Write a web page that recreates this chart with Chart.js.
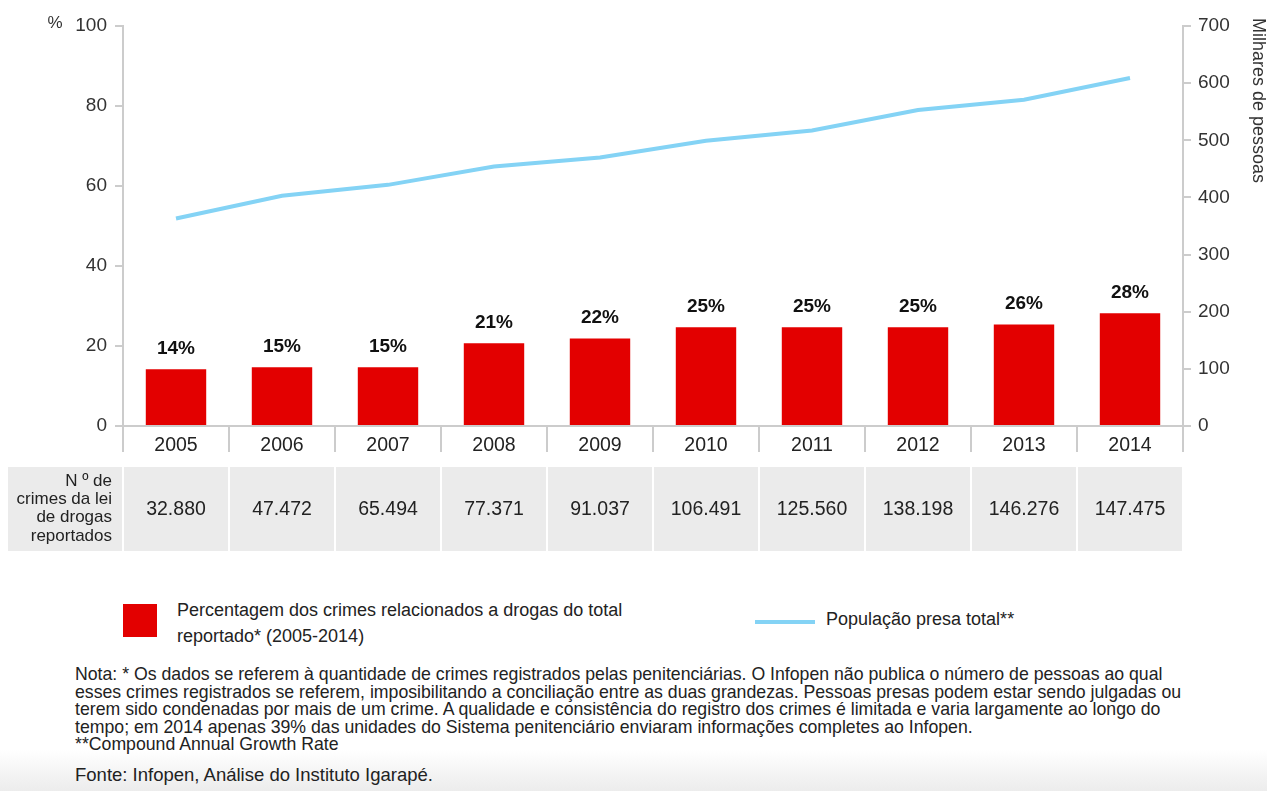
<!DOCTYPE html>
<html>
<head>
<meta charset="utf-8">
<script src="https://cdn.jsdelivr.net/npm/chart.js@4.4.1/dist/chart.umd.min.js"></script>
<style>
  body { margin: 0; width: 1267px; height: 791px; overflow: hidden; font-family: "Liberation Sans", Arial, sans-serif; color: #222;
    background: linear-gradient(to bottom, #fff 0px, #fff 750px, #ececec 791px); }
  #wrap { position: absolute; left: 0; top: 0; width: 1267px; height: 560px; }
  .txt { position: absolute; white-space: nowrap; font-size: 18px; color: #222; }
  .sw { position: absolute; }
</style>
</head>
<body>
<div id="wrap"><canvas id="chart1" width="1267" height="560"></canvas></div>

<div class="sw" style="left:123px;top:604px;width:34px;height:33px;background:#e30000"></div>
<div class="txt" style="left:177px;top:600px">Percentagem dos crimes relacionados a drogas do total</div>
<div class="txt" style="left:177px;top:626px">reportado* (2005-2014)</div>
<div class="sw" style="left:755px;top:620px;width:60px;height:4px;background:#84d3f5"></div>
<div class="txt" style="left:826px;top:609px">População presa total**</div>

<div class="txt" style="left:75px;top:666px;font-size:17.7px;line-height:17.5px">Nota: * Os dados se referem à quantidade de crimes registrados pelas penitenciárias. O Infopen não publica o número de pessoas ao qual<br>esses crimes registrados se referem, imposibilitando a conciliação entre as duas grandezas. Pessoas presas podem estar sendo julgadas ou<br>terem sido condenadas por mais de um crime. A qualidade e consistência do registro dos crimes é limitada e varia largamente ao longo do<br>tempo; em 2014 apenas 39% das unidades do Sistema penitenciário enviaram informações completes ao Infopen.<br>**Compound Annual Growth Rate</div>
<div class="txt" style="left:75px;top:764px;font-size:18.5px">Fonte: Infopen, Análise do Instituto Igarapé.</div>

<script>
const years = ['2005', '2006', '2007', '2008', '2009', '2010', '2011', '2012', '2013', '2014']
const drugShare = [14.2, 14.7, 14.7, 20.7, 21.9, 24.7, 24.7, 24.7, 25.4, 28.2]
const shareLabels = ['14%', '15%', '15%', '21%', '22%', '25%', '25%', '25%', '26%', '28%']
const prisoners = [363, 403, 422, 454, 470, 499, 517, 553, 571, 609]
const crimesReported = ['32.880', '47.472', '65.494', '77.371', '91.037', '106.491', '125.560', '138.198', '146.276', '147.475']
const rowLabel = ['N º de', 'crimes da lei', 'de drogas', 'reportados']

const FONT = '"Liberation Sans", Arial, sans-serif'
const GRID = '#cccccc'

// labels above bars, axis captions and the table under the x axis
const extras = {
  id: 'extras',
  afterDraw(chart) {
    const ctx = chart.ctx
    const x = chart.scales.x
    const area = chart.chartArea
    ctx.save()

    ctx.fillStyle = '#111'
    ctx.font = 'bold 19px ' + FONT
    ctx.textAlign = 'center'
    ctx.textBaseline = 'alphabetic'
    chart.getDatasetMeta(0).data.forEach((bar, i) => {
      ctx.fillText(shareLabels[i], bar.x, bar.y - 15)
    })

    ctx.fillStyle = '#333'
    ctx.font = '17px ' + FONT
    ctx.textBaseline = 'middle'
    ctx.fillText('%', 55, area.top - 3)

    ctx.save()
    ctx.translate(1258, 18)
    ctx.rotate(Math.PI / 2)
    ctx.textAlign = 'left'
    ctx.font = '18px ' + FONT
    ctx.fillText('Milhares de pessoas', 0, 0)
    ctx.restore()

    const top = 467, bottom = 551
    const half = (x.getPixelForValue(1) - x.getPixelForValue(0)) / 2
    ctx.fillStyle = '#ebebeb'
    ctx.fillRect(8, top, area.left - 9, bottom - top)
    years.forEach((y, i) => {
      const c = x.getPixelForValue(i)
      ctx.fillRect(c - half + 1, top, half * 2 - 2, bottom - top)
    })

    ctx.fillStyle = '#222'
    ctx.font = '19.5px ' + FONT
    ctx.textAlign = 'center'
    crimesReported.forEach((v, i) => {
      ctx.fillText(v, x.getPixelForValue(i), 510)
    })

    ctx.font = '17px ' + FONT
    ctx.textAlign = 'right'
    rowLabel.forEach((t, i) => {
      ctx.fillText(t, 112, 481 + i * 18.3)
    })
    ctx.restore()
  }
}

new Chart('chart1', {
  type: 'bar',
  data: {
    labels: years,
    datasets: [{
      type: 'bar',
      data: drugShare,
      backgroundColor: '#e30000',
      barPercentage: 0.57,
      categoryPercentage: 1,
      yAxisID: 'y',
      order: 2
    }, {
      type: 'line',
      data: prisoners,
      borderColor: '#84d3f5',
      borderWidth: 4,
      pointRadius: 0,
      tension: 0,
      yAxisID: 'y1',
      order: 1
    }]
  },
  options: {
    responsive: false,
    animation: false,
    layout: { padding: { top: 26, left: 0, right: 0, bottom: 0 } },
    plugins: {
      legend: { display: false },
      tooltip: { enabled: false }
    },
    scales: {
      x: {
        grid: { drawOnChartArea: false, color: GRID, lineWidth: 2, tickLength: 26, offset: true },
        border: { color: GRID, width: 2 },
        ticks: { color: '#222', font: { family: FONT, size: 19.5 }, padding: -18 },
        afterFit: s => { s.height = 134 }
      },
      y: {
        position: 'left',
        min: 0,
        max: 100,
        ticks: { stepSize: 20, color: '#333', font: { family: FONT, size: 19 }, padding: 8 },
        grid: { drawOnChartArea: false, color: GRID, lineWidth: 2, tickLength: 8 },
        border: { color: GRID, width: 2 },
        afterFit: s => { s.width = 123 }
      },
      y1: {
        position: 'right',
        min: 0,
        max: 700,
        ticks: { stepSize: 100, color: '#333', font: { family: FONT, size: 19 }, padding: 7 },
        grid: { drawOnChartArea: false, color: GRID, lineWidth: 2, tickLength: 8 },
        border: { color: GRID, width: 2 },
        afterFit: s => { s.width = 84 }
      }
    }
  },
  plugins: [extras]
})
</script>
</body>
</html>
